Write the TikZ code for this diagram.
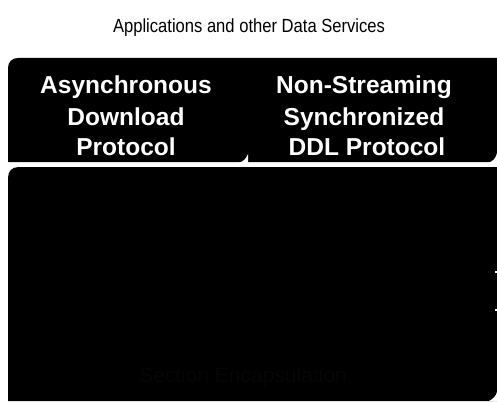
\documentclass[tikz,border=0pt]{standalone}
\usepackage{fontspec}
\setmainfont{Liberation Sans}
\tikzset{
  boxfill/.style={fill=black},
  titletext/.style={font=\fontsize{19}{21}\selectfont, text=black, inner sep=0pt, anchor=base},
  protext/.style={font=\bfseries\fontsize{24.5}{30}\selectfont, text=white, inner sep=0pt, anchor=base},
  fainttext/.style={font=\fontsize{21}{24}\selectfont, text={rgb,255:red,6;green,6;blue,6}, inner sep=0pt, anchor=base},
  notch/.style={fill=white}
}
\begin{document}
\begin{tikzpicture}[x=1pt,y=-1pt]
\useasboundingbox[fill=white] (0,0) rectangle (497,401);
% title
\node[titletext] (title) at (249,33) {\scalebox{0.873}[1]{Applications and other Data Services}};
% upper block
\fill[boxfill] (8,162) -- (8,68) .. controls (8,62) and (12,58) .. (18,58) -- (497,58) -- (497,162) -- cycle;
% lower block
\fill[boxfill] (8,401) -- (8,178) .. controls (8,171) and (12,167) .. (19,167) -- (497,167) -- (497,401) -- cycle;
% small notches
\fill[notch] (238,163) .. controls (243,162) and (246,159) .. (248,154) -- (248,163) -- cycle;
\fill[notch] (487,163) .. controls (493,162) and (496,158) .. (497,153) -- (497,163) -- cycle;
\fill[notch] (495,271) rectangle (497,273);
\fill[notch] (495,309) rectangle (497,311);
\fill[notch] (489,401) .. controls (493,399) and (496,396) .. (497,392) -- (497,401) -- cycle;
% left column
\node[protext] (a1) at (126,94) {Asynchronous};
\node[protext] (a2) at (126,125) {Download};
\node[protext] (a3) at (126,155) {Protocol};
% right column
\node[protext] (b1) at (364,94) {Non-Streaming};
\node[protext] (b2) at (364,125) {Synchronized};
\node[protext] (b3) at (367,155) {DDL Protocol};
% faint lower label
\node[fainttext] (c1) at (243,382) {Section Encapsulation};
\end{tikzpicture}
\end{document}
